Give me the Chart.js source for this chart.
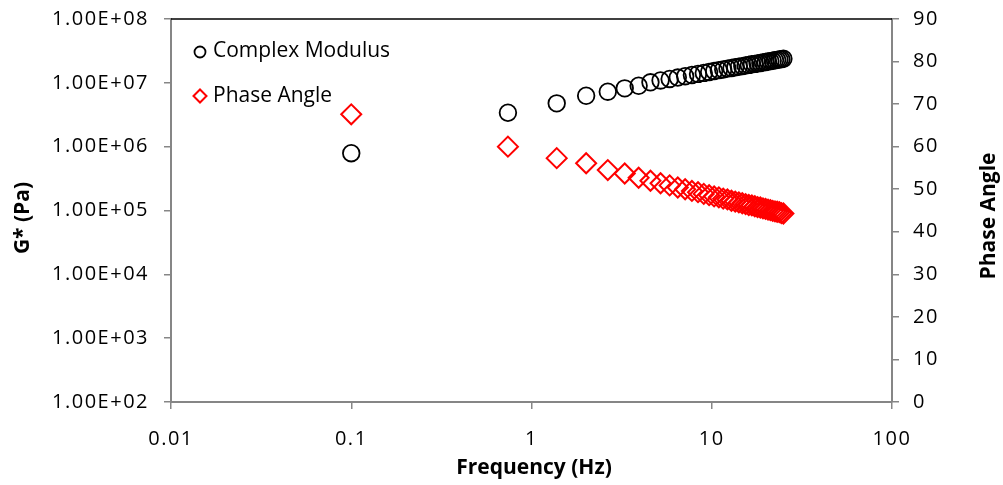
<!DOCTYPE html>
<html><head><meta charset="utf-8">
<script src="https://cdn.jsdelivr.net/npm/chart.js@4/dist/chart.umd.min.js"></script>
<style>html,body{margin:0;padding:0;background:#fff;overflow:hidden}#wrap{position:relative;width:1003px;height:485px}</style>
</head><body><div id="wrap"><canvas id="c" width="1003" height="485"></canvas></div>
<script>
const frequencyHz = [0.1, 0.74, 1.38, 2.01, 2.65, 3.29, 3.93, 4.57, 5.2, 5.84, 6.48, 7.12, 7.76, 8.39, 9.03, 9.67, 10.31, 10.95, 11.58, 12.22, 12.86, 13.5, 14.14, 14.77, 15.41, 16.05, 16.69, 17.33, 17.96, 18.6, 19.24, 19.88, 20.52, 21.15, 21.79, 22.43, 23.07, 23.71, 24.34, 24.98];
const complexModulusPa = [7.9e5, 3.4e6, 4.77e6, 6.28e6, 7.26e6, 8.2e6, 9.0e6, 1.02e7, 1.09e7, 1.15e7, 1.21e7, 1.27e7, 1.33e7, 1.38e7, 1.43e7, 1.48e7, 1.53e7, 1.58e7, 1.62e7, 1.67e7, 1.71e7, 1.75e7, 1.79e7, 1.83e7, 1.87e7, 1.91e7, 1.95e7, 1.98e7, 2.02e7, 2.05e7, 2.09e7, 2.12e7, 2.16e7, 2.19e7, 2.22e7, 2.26e7, 2.29e7, 2.32e7, 2.35e7, 2.38e7];
const phaseAngleDeg = [67.6, 60.0, 57.3, 56.1, 54.5, 53.7, 52.7, 52.0, 51.4, 50.9, 50.4, 50.0, 49.6, 49.3, 48.9, 48.6, 48.3, 48.1, 47.8, 47.6, 47.3, 47.1, 46.9, 46.7, 46.5, 46.3, 46.2, 46.0, 45.8, 45.7, 45.5, 45.4, 45.2, 45.1, 44.9, 44.8, 44.7, 44.6, 44.4, 44.3];
const gTickValues = [1e2, 1e3, 1e4, 1e5, 1e6, 1e7, 1e8];
const gTickLabels = ['1.00E+02', '1.00E+03', '1.00E+04', '1.00E+05', '1.00E+06', '1.00E+07', '1.00E+08'];
const freqTickValues = [0.01, 0.1, 1, 10, 100];
const freqTickLabels = ['0.01', '0.1', '1', '10', '100'];
const seriesNames = ['Complex Modulus', 'Phase Angle'];
const xTitle = 'Frequency (Hz)';
const leftTitle = 'G* (Pa)';
const rightTitle = 'Phase Angle';

const AXIS_GRAY = '#868686';
const tickFont = {family: 'Open Sans', size: 20};

const extras = {
  id: 'extras',
  beforeDraw(chart) {
    chart.ctx.letterSpacing = '1.5px';
  },
  afterDraw(chart) {
    const ctx = chart.ctx, a = chart.chartArea;
    ctx.save();
    ctx.letterSpacing = '0px';
    // top border
    ctx.strokeStyle = '#000'; ctx.lineWidth = 1.5;
    ctx.beginPath(); ctx.moveTo(a.left, a.top); ctx.lineTo(a.right, a.top); ctx.stroke();
    // axis titles
    ctx.fillStyle = '#000';
    ctx.font = 'bold 21px "Open Sans"';
    ctx.textAlign = 'center'; ctx.textBaseline = 'middle';
    ctx.fillText(xTitle, 534, 468);
    ctx.save();
    ctx.translate(23, 218); ctx.rotate(-Math.PI / 2);
    ctx.fillText(leftTitle, 0, 0);
    ctx.restore();
    ctx.save();
    ctx.translate(989, 216); ctx.rotate(-Math.PI / 2);
    ctx.fillText(rightTitle, 0, 0);
    ctx.restore();
    // legend
    ctx.font = '21px "Open Sans"';
    ctx.textAlign = 'left';
    ctx.strokeStyle = '#000'; ctx.lineWidth = 1.8;
    ctx.beginPath(); ctx.arc(200, 52, 5.5, 0, Math.PI * 2); ctx.stroke();
    ctx.fillText(seriesNames[0], 213, 51);
    ctx.strokeStyle = '#ff0000'; ctx.lineWidth = 2;
    ctx.beginPath(); ctx.moveTo(193.5, 96); ctx.lineTo(200, 89.5); ctx.lineTo(206.5, 96); ctx.lineTo(200, 102.5); ctx.closePath(); ctx.stroke();
    ctx.fillText(seriesNames[1], 213, 96);
    ctx.restore();
  }
};

function noVPad(s) { s.paddingTop = 0; s.paddingBottom = 0; }

new Chart(document.getElementById('c'), {
  type: 'scatter',
  data: {
    datasets: [
      {
        label: seriesNames[0],
        data: frequencyHz.map((f, i) => ({x: f, y: complexModulusPa[i]})),
        yAxisID: 'yG',
        pointStyle: 'circle', pointRadius: 8.3, pointHoverRadius: 8.3,
        borderColor: '#000', borderWidth: 1.8, backgroundColor: 'rgba(0,0,0,0)', showLine: false
      },
      {
        label: seriesNames[1],
        data: frequencyHz.map((f, i) => ({x: f, y: phaseAngleDeg[i]})),
        yAxisID: 'yP',
        pointStyle: 'rectRot', pointRadius: 10, pointHoverRadius: 10,
        borderColor: '#ff0000', borderWidth: 2, backgroundColor: 'rgba(0,0,0,0)', showLine: false
      }
    ]
  },
  options: {
    responsive: false, animation: false, devicePixelRatio: 1,
    layout: {padding: {top: 19, left: 0, right: 0, bottom: 0}},
    plugins: {legend: {display: false}, tooltip: {enabled: false}},
    scales: {
      x: {
        type: 'logarithmic', position: 'bottom', min: 0.01, max: 100,
        afterBuildTicks: s => { s.ticks = freqTickValues.map(v => ({value: v})); },
        afterFit: s => { s.height = 83; s.paddingLeft = 0; s.paddingRight = 0; },
        ticks: {autoSkip: false, maxRotation: 0, font: tickFont, color: '#000', padding: 18,
          callback: (v, i) => freqTickLabels[i]},
        grid: {drawOnChartArea: false, drawTicks: true, tickLength: 7, color: AXIS_GRAY, lineWidth: 1.5},
        border: {display: true, color: AXIS_GRAY, width: 2},
        title: {display: false}
      },
      yG: {
        type: 'logarithmic', position: 'left', min: 1e2, max: 1e8,
        afterBuildTicks: s => { s.ticks = gTickValues.map(v => ({value: v})); },
        afterFit: s => { s.width = 171; noVPad(s); },
        ticks: {autoSkip: false, font: tickFont, color: '#000', padding: 15,
          callback: (v, i) => gTickLabels[i]},
        grid: {drawOnChartArea: false, drawTicks: true, tickLength: 7, color: AXIS_GRAY, lineWidth: 1.5},
        border: {display: true, color: AXIS_GRAY, width: 2},
        title: {display: false}
      },
      yP: {
        type: 'linear', position: 'right', min: 0, max: 90,
        afterFit: s => { s.width = 111; noVPad(s); },
        ticks: {stepSize: 10, autoSkip: false, font: tickFont, color: '#000', padding: 14},
        grid: {drawOnChartArea: false, drawTicks: true, tickLength: 7, color: AXIS_GRAY, lineWidth: 1.5},
        border: {display: true, color: AXIS_GRAY, width: 2},
        title: {display: false}
      }
    }
  },
  plugins: [extras]
});
</script></body></html>
